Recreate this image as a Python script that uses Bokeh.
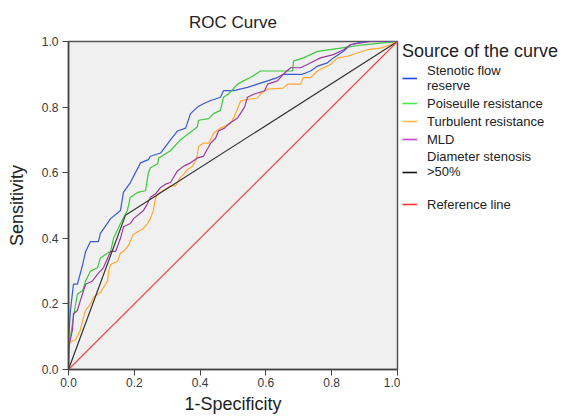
from bokeh.plotting import figure
from bokeh.layouts import row
from bokeh.models import Legend, LegendItem, Range1d, FixedTicker, PrintfTickFormatter
from bokeh.embed import file_html
from bokeh.resources import INLINE

# Stenotic flow reserve
sfr_x = [0, 0.0, 0.0, 0.006, 0.015, 0.027, 0.043, 0.052, 0.067, 0.091, 0.097, 0.128, 0.158, 0.167, 0.188,
         0.219, 0.243, 0.249, 0.280, 0.310, 0.331, 0.356, 0.371, 0.392, 0.410, 0.432, 0.462, 0.471, 0.502,
         0.544, 0.574, 0.605, 0.635, 0.653, 0.711, 0.736, 0.757, 0.787, 0.805, 0.836, 0.857, 0.897, 1.0]
sfr_y = [0, 0.03, 0.09, 0.18, 0.26, 0.26, 0.32, 0.36, 0.39, 0.39, 0.415, 0.46, 0.485, 0.54, 0.57,
         0.63, 0.64, 0.65, 0.66, 0.70, 0.727, 0.736, 0.78, 0.80, 0.81, 0.82, 0.83, 0.85, 0.85,
         0.86, 0.87, 0.88, 0.89, 0.90, 0.90, 0.91, 0.925, 0.935, 0.95, 0.97, 0.99, 1.0, 1.0]

# Poiseulle resistance
poi_x = [0, 0.0, 0.006, 0.015, 0.027, 0.043, 0.052, 0.067, 0.088, 0.097, 0.119, 0.128, 0.137, 0.158, 0.179,
         0.188, 0.210, 0.234, 0.243, 0.249, 0.271, 0.274, 0.310, 0.340, 0.392, 0.395, 0.426, 0.441, 0.462,
         0.471, 0.486, 0.514, 0.532, 0.553, 0.584, 0.681, 0.684, 0.714, 0.757, 0.827, 0.897, 1.0]
poi_y = [0, 0.09, 0.10, 0.16, 0.23, 0.24, 0.27, 0.30, 0.31, 0.34, 0.355, 0.36, 0.40, 0.445, 0.485,
         0.525, 0.54, 0.545, 0.60, 0.615, 0.627, 0.645, 0.667, 0.70, 0.74, 0.76, 0.765, 0.78, 0.79,
         0.83, 0.84, 0.87, 0.88, 0.89, 0.91, 0.91, 0.94, 0.95, 0.97, 0.98, 0.99, 1.0]

# Turbulent resistance
tur_x = [0, 0.0, 0.006, 0.021, 0.036, 0.043, 0.052, 0.067, 0.076, 0.097, 0.106, 0.119, 0.122, 0.128, 0.149,
         0.158, 0.167, 0.180, 0.188, 0.195, 0.210, 0.228, 0.240, 0.249, 0.258, 0.264, 0.271, 0.310, 0.325,
         0.340, 0.350, 0.362, 0.377, 0.386, 0.392, 0.395, 0.410, 0.426, 0.441, 0.462, 0.492, 0.502, 0.523,
         0.544, 0.574, 0.584, 0.605, 0.653, 0.666, 0.705, 0.714, 0.736, 0.757, 0.775, 0.796, 0.818, 0.848,
         0.878, 0.909, 0.948, 0.979, 1.0]
tur_y = [0, 0.07, 0.085, 0.09, 0.12, 0.15, 0.18, 0.20, 0.22, 0.235, 0.25, 0.27, 0.30, 0.32, 0.33,
         0.355, 0.36, 0.375, 0.39, 0.41, 0.42, 0.43, 0.445, 0.46, 0.485, 0.52, 0.535, 0.56, 0.56,
         0.585, 0.595, 0.61, 0.62, 0.635, 0.655, 0.68, 0.69, 0.69, 0.72, 0.736, 0.75, 0.767, 0.818,
         0.824, 0.827, 0.84, 0.855, 0.858, 0.87, 0.87, 0.89, 0.89, 0.91, 0.92, 0.93, 0.95, 0.955,
         0.965, 0.975, 0.98, 0.99, 1.0]

# MLD
mld_x = [0, 0.0, 0.003, 0.012, 0.015, 0.027, 0.036, 0.052, 0.073, 0.088, 0.106, 0.119, 0.128, 0.143, 0.158,
         0.167, 0.188, 0.198, 0.228, 0.240, 0.249, 0.264, 0.280, 0.295, 0.310, 0.331, 0.350, 0.371, 0.392,
         0.410, 0.432, 0.447, 0.456, 0.474, 0.489, 0.514, 0.535, 0.544, 0.565, 0.596, 0.605, 0.635, 0.653,
         0.675, 0.705, 0.726, 0.745, 0.766, 0.805, 0.836, 0.857, 0.918, 1.0]
mld_y = [0, 0.03, 0.08, 0.12, 0.17, 0.18, 0.21, 0.26, 0.27, 0.29, 0.31, 0.34, 0.36, 0.36, 0.40,
         0.435, 0.445, 0.46, 0.485, 0.505, 0.525, 0.535, 0.555, 0.565, 0.57, 0.605, 0.62, 0.63, 0.645,
         0.65, 0.69, 0.705, 0.727, 0.736, 0.75, 0.767, 0.80, 0.83, 0.84, 0.85, 0.87, 0.88, 0.90,
         0.92, 0.92, 0.93, 0.94, 0.95, 0.96, 0.975, 0.99, 1.0, 1.0]

# Diameter stenosis >50%
ds_x = [0, 0.173, 1.0]
ds_y = [0, 0.47, 1.0]

# Reference line
ref_x = [0, 1]
ref_y = [0, 1]

ticks = [0.0, 0.2, 0.4, 0.6, 0.8, 1.0]
series_labels = ["Stenotic flow\nreserve", "Poiseulle resistance", "Turbulent resistance",
                 "MLD", "Diameter stenosis\n>50%\n\u00a0", "Reference line"]
curve_colors = ["#3a5acc", "#3cc83c", "#ffa830", "#9a3aa0", "#333333", "#f04848"]
legend_colors = ["#2244ff", "#44ee44", "#ffc040", "#cc44cc", "#111111", "#ff3030"]
FONT = "Liberation Sans"

p = figure(width=400, height=416, output_backend="svg", toolbar_location=None,
           x_range=Range1d(0, 1), y_range=Range1d(0, 1), title="ROC Curve",
           min_border_left=68, min_border_right=3, min_border_top=40, min_border_bottom=46)

p.background_fill_color = "#f0f0f0"
p.border_fill_color = "white"
p.outline_line_color = "#555555"
p.outline_line_width = 1.5
p.grid.visible = False

p.title.align = "center"
p.title.text_font = FONT
p.title.text_font_size = "17px"
p.title.text_font_style = "normal"
p.title.text_color = "#222222"
p.title.offset = 0
p.title.standoff = 20

for ax in (p.xaxis[0], p.yaxis[0]):
    ax.ticker = FixedTicker(ticks=ticks)
    ax.formatter = PrintfTickFormatter(format="%.1f")
    ax.minor_tick_line_color = None
    ax.major_tick_out = 6
    ax.major_tick_in = 0
    ax.axis_line_color = "#444444"
    ax.axis_line_width = 1.5
    ax.major_tick_line_color = "#444444"
    ax.major_label_text_font = FONT
    ax.major_label_text_font_size = "12px"
    ax.major_label_text_color = "#3a3a3a"
    ax.axis_label_text_font = FONT
    ax.axis_label_text_font_size = "18px"
    ax.axis_label_text_font_style = "normal"
    ax.axis_label_text_color = "#222222"

p.xaxis.axis_label = "1-Specificity"
p.yaxis.axis_label = "Sensitivity"
p.xaxis.major_label_standoff = 2
p.xaxis.axis_label_standoff = 4
p.yaxis.major_label_standoff = 4
p.yaxis.axis_label_standoff = 12

xs = [sfr_x, poi_x, tur_x, mld_x, ds_x, ref_x]
ys = [sfr_y, poi_y, tur_y, mld_y, ds_y, ref_y]
for x, y, c in zip(xs, ys, curve_colors):
    p.line(x, y, line_color=c, line_width=1.2)

# Legend panel
pl = figure(width=165, height=416, output_backend="svg", toolbar_location=None,
            x_axis_type=None, y_axis_type=None, x_range=Range1d(0, 1), y_range=Range1d(0, 1),
            min_border_left=2, min_border_right=0, min_border_top=35, min_border_bottom=0)
pl.outline_line_color = None
pl.background_fill_color = "white"
pl.border_fill_color = "white"

items = []
for lab, c in zip(series_labels, legend_colors):
    r = pl.line(x=[float("nan")], y=[float("nan")], line_color=c, line_width=1.6)
    items.append(LegendItem(label=lab, renderers=[r]))

legend = Legend(items=items, location="top_left")
legend.title = "Source of the curve"
legend.title_text_font = FONT
legend.title_text_font_size = "18px"
legend.title_text_font_style = "normal"
legend.title_text_color = "#222222"
legend.title_standoff = 1
legend.label_text_font = FONT
legend.label_text_font_size = "13px"
legend.label_text_color = "#222222"
legend.label_height = 16
legend.glyph_height = 16
legend.glyph_width = 15
legend.label_standoff = 10
legend.spacing = 2
legend.padding = 0
legend.margin = 0
legend.border_line_color = None
legend.background_fill_alpha = 0
pl.add_layout(legend, "center")

layout = row(p, pl)
open("out.html", "w").write(file_html(layout, INLINE))
